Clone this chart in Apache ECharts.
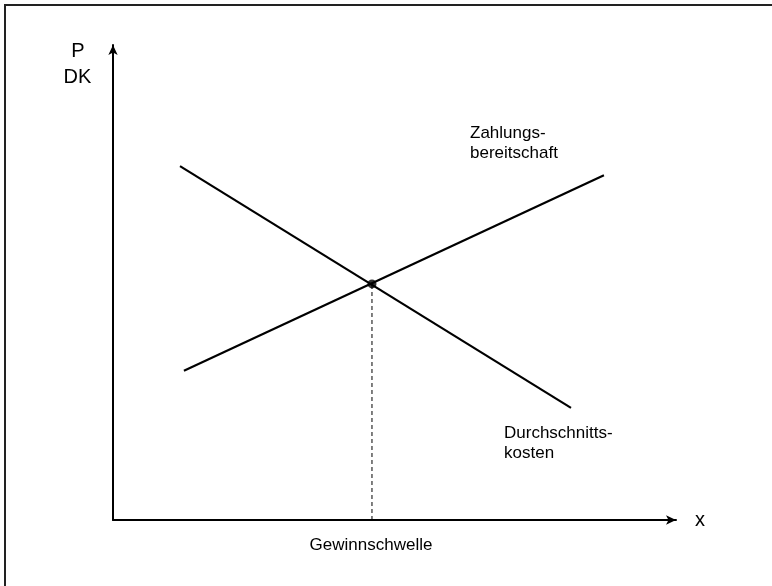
<!DOCTYPE html>
<html>
<head>
<meta charset="utf-8">
<script src="https://cdn.jsdelivr.net/npm/echarts@6/dist/echarts.min.js"></script>
<style>
  html, body { margin: 0; padding: 0; background: #fff; }
  #chart { width: 772px; height: 586px; }
</style>
</head>
<body>
<div id="chart"></div>
<script>
// Schematic break-even diagram: willingness to pay vs. average cost
const durchschnittskosten = [[11.9, 74.5], [81.35, 23.6]];
const zahlungsbereitschaft = [[12.6, 31.4], [87.2, 72.6]];
const gewinnschwelle = [46.0, 49.7];
const achsenTitel = { x: 'x', y: ['P', 'DK'] };
const kurvenTitel = {
  zahlung: ['Zahlungs-', 'bereitschaft'],
  kosten: ['Durchschnitts-', 'kosten'],
  schwelle: 'Gewinnschwelle'
};

const FONT = '"Liberation Sans", Arial, sans-serif';
const INK = '#000';

const chart = echarts.init(document.getElementById('chart'), null, { renderer: 'canvas' });

function axisBase() {
  return {
    type: 'value',
    min: 0,
    max: 100,
    axisLine: {
      show: true,
      onZero: false,
      symbol: ['none', 'arrow'],
      symbolSize: [7, 10],
      lineStyle: { color: INK, width: 2 }
    },
    axisTick: { show: false },
    axisLabel: { show: false },
    splitLine: { show: false }
  };
}

chart.setOption({
  animation: false,
  backgroundColor: '#fff',
  grid: { left: 113, right: 96, top: 45, bottom: 66 },
  xAxis: Object.assign(axisBase(), {
    name: achsenTitel.x,
    nameLocation: 'end',
    nameGap: 19,
    nameTextStyle: { color: INK, fontFamily: FONT, fontSize: 20, verticalAlign: 'middle' }
  }),
  yAxis: axisBase(),
  series: [
    {
      name: 'Durchschnittskosten',
      type: 'line',
      data: durchschnittskosten,
      symbol: 'none',
      lineStyle: { color: INK, width: 2.2 },
      z: 3
    },
    {
      name: 'Zahlungsbereitschaft',
      type: 'line',
      data: zahlungsbereitschaft,
      symbol: 'none',
      lineStyle: { color: INK, width: 2.2 },
      z: 3
    },
    {
      name: 'Gewinnschwelle',
      type: 'line',
      data: [[gewinnschwelle[0], 0], gewinnschwelle],
      symbol: 'none',
      lineStyle: { color: INK, width: 1, type: [4, 3] },
      z: 2
    },
    {
      name: 'Schnittpunkt',
      type: 'scatter',
      data: [gewinnschwelle],
      symbol: 'circle',
      symbolSize: 9,
      itemStyle: { color: INK },
      z: 4
    }
  ],
  graphic: [
    {
      type: 'rect',
      shape: { x: 5, y: 5, width: 820, height: 640 },
      style: { fill: 'none', stroke: '#222', lineWidth: 2 },
      silent: true
    },
    {
      type: 'text', x: 78, y: 51,
      style: { text: achsenTitel.y[0], font: '20px ' + FONT, fill: INK, textAlign: 'center', textVerticalAlign: 'middle' }
    },
    {
      type: 'text', x: 77.5, y: 77,
      style: { text: achsenTitel.y[1], font: '20px ' + FONT, fill: INK, textAlign: 'center', textVerticalAlign: 'middle' }
    },
    {
      type: 'text', x: 470, y: 133,
      style: { text: kurvenTitel.zahlung[0], font: '17px ' + FONT, fill: INK, textAlign: 'left', textVerticalAlign: 'middle' }
    },
    {
      type: 'text', x: 470, y: 153,
      style: { text: kurvenTitel.zahlung[1], font: '17px ' + FONT, fill: INK, textAlign: 'left', textVerticalAlign: 'middle' }
    },
    {
      type: 'text', x: 504, y: 433,
      style: { text: kurvenTitel.kosten[0], font: '17px ' + FONT, fill: INK, textAlign: 'left', textVerticalAlign: 'middle' }
    },
    {
      type: 'text', x: 504, y: 453,
      style: { text: kurvenTitel.kosten[1], font: '17px ' + FONT, fill: INK, textAlign: 'left', textVerticalAlign: 'middle' }
    },
    {
      type: 'text', x: 371, y: 545,
      style: { text: kurvenTitel.schwelle, font: '17px ' + FONT, fill: INK, textAlign: 'center', textVerticalAlign: 'middle' }
    }
  ]
});
</script>
</body>
</html>
